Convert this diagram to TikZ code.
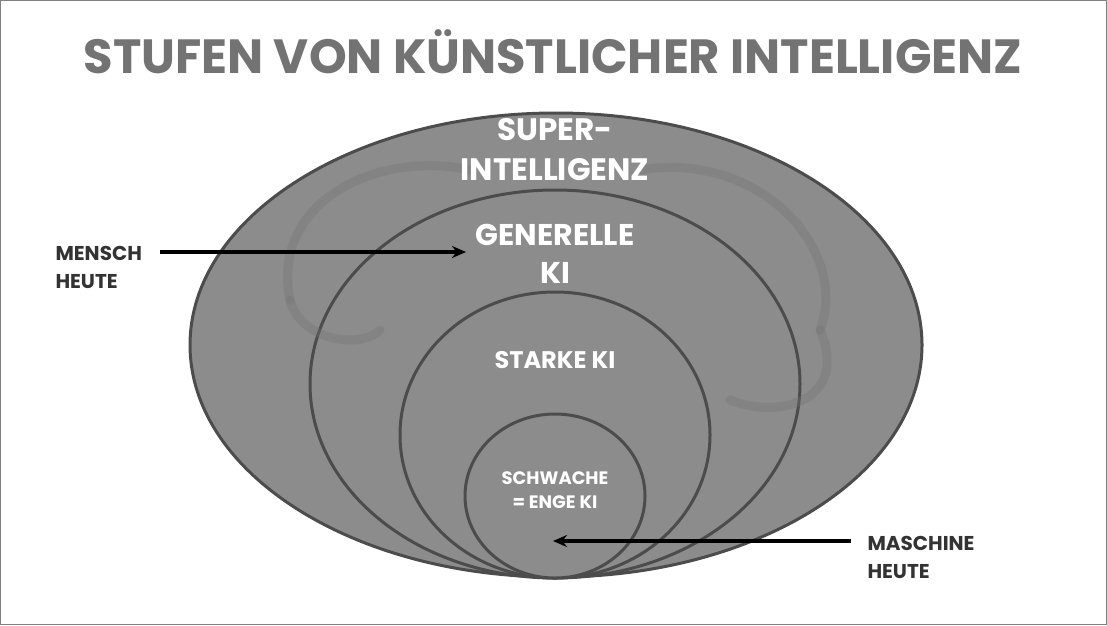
\documentclass[tikz,border=0pt]{standalone}
\usepackage{fontspec}
\usetikzlibrary{arrows.meta}
\setmainfont{Poppins}
\begin{document}
\begin{tikzpicture}[x=1pt,y=-1pt,
  lvl/.style={draw=black!70,line width=3pt,fill=black!45},
  lbl/.style={text=white,align=center},
  side/.style={text=black!80,font=\fontsize{20}{28}\selectfont\bfseries,align=left},
  arr/.style={-{Stealth[length=14pt,width=12pt]},line width=3.2pt,black}]
\draw[black!50,fill=white,line width=1pt] (0.5,0.5) rectangle (1106.5,624.5);
\node[font=\fontsize{48}{52}\selectfont\bfseries,text=black!55] (title) at (553,52) {STUFEN VON KÜNSTLICHER INTELLIGENZ};
\draw[lvl] (556,345) ellipse [x radius=366,y radius=232];
\draw[lvl] (555,384) ellipse [x radius=245,y radius=194];
\draw[lvl] (555,435) ellipse [x radius=155,y radius=143];
\draw[lvl] (555,496) ellipse [x radius=90,y radius=82];
% faint brain hints
\begin{scope}[draw=black!55,line width=9pt,opacity=0.35,line cap=round]
\draw (290,300) .. controls (270,200) and (380,150) .. (470,170);
\draw (640,170) .. controls (760,150) and (850,250) .. (820,330);
\draw (820,330) .. controls (850,400) and (780,420) .. (730,400);
\draw (290,300) .. controls (300,340) and (360,350) .. (380,330);
\end{scope}
\node[lbl,font=\fontsize{31}{40}\selectfont\bfseries] (super) at (555,150) {SUPER-\\INTELLIGENZ};
\node[lbl,font=\fontsize{30}{38}\selectfont\bfseries] (gen) at (555,254) {GENERELLE\\KI};
\node[lbl,font=\fontsize{24}{28}\selectfont\bfseries] (stark) at (555,360) {STARKE KI};
\node[lbl,font=\fontsize{18}{24}\selectfont\bfseries] (schw) at (555,490) {SCHWACHE\\= ENGE KI};
\node[side,anchor=west] (mensch) at (52,267) {MENSCH\\HEUTE};
\node[side,anchor=west] (masch) at (864,557) {MASCHINE\\HEUTE};
\coordinate (m1) at (160,252);
\coordinate (m2) at (466,252);
\coordinate (s1) at (851,541);
\coordinate (s2) at (553,541);
\draw[arr] (m1) -- (m2);
\draw[arr] (s1) -- (s2);
\end{tikzpicture}
\end{document}
